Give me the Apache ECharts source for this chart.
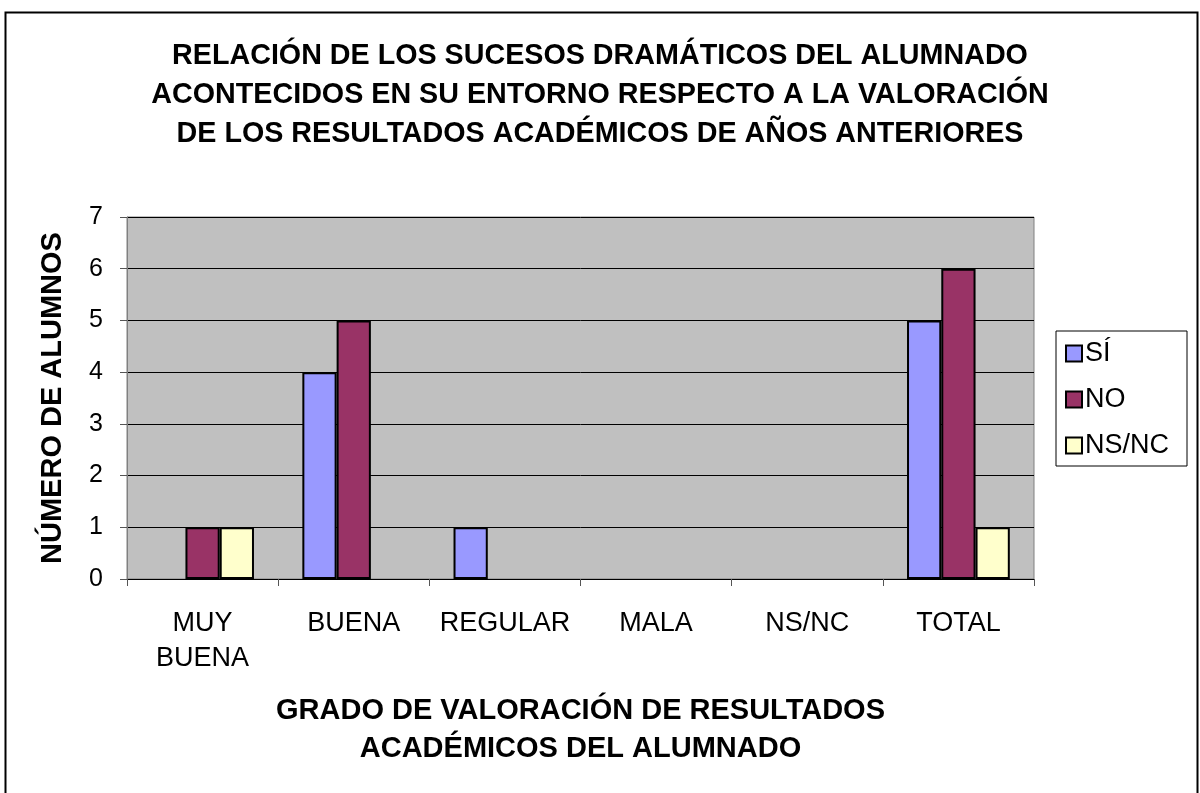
<!DOCTYPE html>
<html>
<head>
<meta charset="utf-8">
<script src="https://cdn.jsdelivr.net/npm/echarts@6/dist/echarts.min.js"></script>
<style>
html,body{margin:0;padding:0;background:#fff;}
#c{width:1200px;height:793px;}
</style>
</head>
<body>
<div id="c"></div>
<script>
const categories = ['MUY\nBUENA', 'BUENA', 'REGULAR', 'MALA', 'NS/NC', 'TOTAL'];
const seriesNames = ['SÍ', 'NO', 'NS/NC'];
const valuesSi = [0, 4, 1, 0, 0, 5];
const valuesNo = [1, 5, 0, 0, 0, 6];
const valuesNsnc = [1, 0, 0, 0, 0, 1];
const yTicks = [0, 1, 2, 3, 4, 5, 6, 7];
const colors = ['#9999ff', '#993366', '#ffffcc'];

const FONT = '"Liberation Sans", Arial, sans-serif';
const chart = echarts.init(document.getElementById('c'));
const data = [valuesSi, valuesNo, valuesNsnc];

chart.setOption({
  animation: false,
  backgroundColor: '#fff',
  title: {
    text: 'RELACIÓN DE LOS SUCESOS DRAMÁTICOS DEL ALUMNADO\nACONTECIDOS EN SU ENTORNO RESPECTO A LA VALORACIÓN\nDE LOS RESULTADOS ACADÉMICOS DE AÑOS ANTERIORES',
    left: 600,
    top: 37,
    textAlign: 'center',
    padding: 0,
    textStyle: {fontFamily: FONT, fontWeight: 'bold', fontSize: 28.7, lineHeight: 39, color: '#000'}
  },
  graphic: [{
    type: 'rect', left: 3, top: 10,
    shape: {x: 0, y: 0, width: 1192, height: 800},
    style: {fill: 'none', stroke: '#000', lineWidth: 2},
    silent: true, z: 100
  }],
  legend: {
    orient: 'vertical',
    left: 1056, top: 331,
    padding: [9, 18, 7, 9],
    itemGap: 19,
    itemWidth: 16, itemHeight: 16,
    icon: 'rect',
    backgroundColor: '#fff',
    borderColor: '#000', borderWidth: 1,
    textStyle: {fontFamily: FONT, fontSize: 27, color: '#000', lineHeight: 27, padding: [0, 0, 0, -2]},
    data: seriesNames
  },
  grid: {left: 127, right: 166, top: 217, bottom: 214, show: true, backgroundColor: '#c0c0c0', borderColor: '#808080', borderWidth: 1},
  xAxis: {
    type: 'category',
    data: categories,
    name: 'GRADO DE VALORACIÓN DE RESULTADOS\nACADÉMICOS DEL ALUMNADO',
    nameLocation: 'middle',
    nameGap: 113,
    nameTextStyle: {fontFamily: FONT, fontWeight: 'bold', fontSize: 29, lineHeight: 38, color: '#000', verticalAlign: 'top'},
    axisLine: {lineStyle: {color: '#000', width: 1}},
    axisTick: {show: true, length: 7, lineStyle: {color: '#555'}},
    axisLabel: {fontFamily: FONT, fontSize: 27, color: '#000', lineHeight: 35, margin: 27, interval: 0}
  },
  yAxis: {
    type: 'value',
    min: 0, max: 7, interval: 1,
    name: 'NÚMERO DE ALUMNOS',
    nameLocation: 'middle',
    nameGap: 60,
    nameTextStyle: {fontFamily: FONT, fontWeight: 'bold', fontSize: 29, color: '#000'},
    axisLine: {show: true, lineStyle: {color: '#808080', width: 1}},
    axisTick: {show: true, length: 7, lineStyle: {color: '#555'}},
    axisLabel: {fontFamily: FONT, fontSize: 25, color: '#000', margin: 24,
      formatter: v => yTicks.includes(v) ? String(v) : ''},
    splitLine: {show: true, lineStyle: {color: '#000', width: 1}}
  },
  series: seriesNames.map((n, i) => ({
    name: n,
    type: 'bar',
    data: data[i].map(v => v === 0 ? {value: v, itemStyle: {borderWidth: 0}} : v),
    barGap: '0%',
    barCategoryGap: '32%',
    itemStyle: {color: colors[i], borderColor: '#000', borderWidth: 2}
  }))
});
</script>
</body>
</html>
